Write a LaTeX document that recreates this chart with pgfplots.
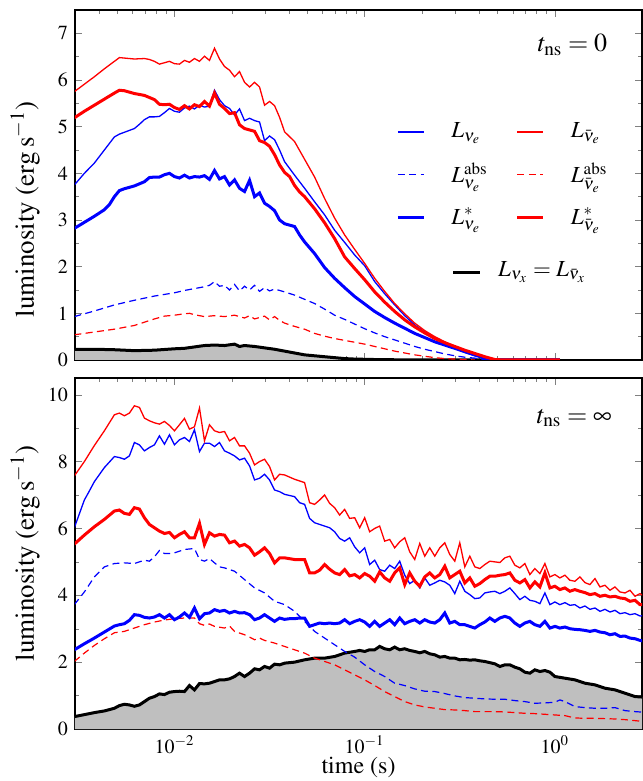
\documentclass[border=0pt]{standalone}
\usepackage[T1]{fontenc}
\usepackage{mathptmx}
\usepackage{pgfplots}
\usepackage{pgfplotstable}
\pgfplotsset{compat=1.18}
\definecolor{fillgray}{gray}{0.75}
\definecolor{pblue}{RGB}{0,0,255}
\definecolor{pred}{RGB}{255,0,0}

\tikzset{
  lthin/.style={line width=0.65pt},
  lthick/.style={line width=1.5pt},
  ldash/.style={line width=0.6pt, dash pattern=on 3.5pt off 2.2pt},
}

% black curves (nu_x) are read twice: once for the grey area, once for the line
\pgfplotstableread{
t L
0.002976 0.23
0.003793 0.23
0.004833 0.22
0.006158 0.20
0.007848 0.21
0.01 0.24
0.01129 0.25
0.01274 0.28
0.01438 0.31
0.01624 0.32
0.01833 0.31
0.02069 0.34
0.02198 0.29
0.02336 0.31
0.02637 0.29
0.02976 0.26
0.03360 0.23
0.03793 0.19
0.04281 0.15
0.04833 0.11
0.05456 0.09
0.06158 0.07
0.06952 0.05
0.07848 0.03
0.08859 0.02
0.1129 0.01
0.1833 0
1.062 0
}\topx

\pgfplotstableread{
t L
0.002976 0.37
0.003360 0.43
0.003793 0.49
0.004281 0.54
0.004833 0.62
0.005135 0.70
0.005456 0.74
0.005796 0.72
0.006158 0.68
0.006543 0.72
0.006952 0.82
0.007386 0.92
0.007848 0.97
0.008338 1.05
0.008859 1.03
0.009412 1.10
0.01 1.12
0.01062 1.13
0.01129 1.12
0.01199 1.30
0.01274 1.17
0.01354 1.36
0.01438 1.35
0.01528 1.37
0.01624 1.42
0.01725 1.47
0.01833 1.47
0.01948 1.50
0.02069 1.57
0.02198 1.67
0.02336 1.57
0.02482 1.67
0.02637 1.80
0.02801 1.77
0.02976 1.87
0.03162 1.82
0.03360 1.94
0.03570 1.92
0.03793 1.97
0.04281 2.00
0.04833 2.07
0.05456 2.12
0.06158 2.12
0.06952 2.17
0.07848 2.27
0.08859 2.32
0.09412 2.35
0.1 2.32
0.1062 2.37
0.1129 2.37
0.1199 2.47
0.1274 2.40
0.1354 2.37
0.1438 2.45
0.1528 2.37
0.1624 2.40
0.1725 2.35
0.1833 2.32
0.1948 2.28
0.2069 2.32
0.2198 2.25
0.2336 2.22
0.2482 2.15
0.2637 2.17
0.2801 2.12
0.2976 2.12
0.3162 2.07
0.3360 2.08
0.3570 2.06
0.3793 2.07
0.4030 2.04
0.4281 2.02
0.4833 1.95
0.5135 1.87
0.5456 1.92
0.5796 1.92
0.6158 1.85
0.6543 1.80
0.6952 1.70
0.7386 1.67
0.7848 1.77
0.8338 1.72
0.8859 1.75
0.9412 1.70
1.000 1.57
1.129 1.52
1.274 1.47
1.438 1.37
1.624 1.32
1.833 1.22
2.069 1.17
2.336 1.07
2.637 0.97
2.976 0.95
}\botx

\begin{document}
\begin{tikzpicture}
\useasboundingbox (-37.5pt,-26pt) rectangle (283.5pt,364.5pt);

% ---- t_ns = 0 ----
\begin{axis}[
  scale only axis, width=283.5pt, height=175pt, at={(0pt,184.5pt)},
  xmode=log, xmin=0.003, xmax=2.87, ymin=0, ymax=7.5,
  ytick={0,1,2,3,4,5,6,7}, minor y tick num=1,
  xticklabels={},
  tick align=inside,
  major tick length=3.5pt, minor tick length=2pt,
  axis line style={line width=0.6pt},
  tick label style={font=\fontsize{10}{12}\selectfont},
  ylabel={luminosity (erg\,s$^{-1}$)},
  ylabel style={font=\fontsize{13.5}{15}\selectfont, at={(axis description cs:-0.088,0.43)}, anchor=center},
  legend columns=2,
  legend cell align=left,
  legend image code/.code={\draw[#1] (0pt,0pt) -- (13pt,0pt);},
  legend style={draw=none, fill=none, inner sep=0pt,
    at={(0.566,0.69)}, anchor=north west,
    font=\fontsize{11.5}{14}\selectfont, row sep=7pt,
    /tikz/every odd column/.append style={column sep=11pt},
    /tikz/every even column/.append style={column sep=12pt}},
]
\addplot[draw=none, fill=fillgray, forget plot] table[x=t,y=L] {\topx} \closedcycle;
\addplot[black, lthick, forget plot] table[x=t,y=L] {\topx};

\addplot[draw=pblue, lthin] coordinates {
(0.002976,3.75)(0.003360,4.00)(0.003793,4.22)(0.004281,4.50)(0.004833,4.78)(0.005135,4.84)(0.005456,4.88)(0.006158,4.96)(0.006543,5.05)(0.006952,5.15)(0.007386,5.21)(0.007848,5.21)(0.008338,5.22)(0.008859,5.30)(0.009412,5.39)(0.01,5.33)(0.01062,5.31)(0.01129,5.40)(0.01199,5.44)(0.01274,5.38)(0.01354,5.46)(0.01438,5.42)(0.01528,5.44)(0.01624,5.78)(0.01725,5.58)(0.01833,5.45)(0.01948,5.39)(0.02069,5.25)(0.02198,5.38)(0.02336,5.13)(0.02482,5.18)(0.02637,5.13)(0.02801,5.10)(0.02976,4.70)(0.03162,4.80)(0.03360,4.72)(0.03570,4.50)(0.03793,4.25)(0.04281,3.96)(0.04833,3.68)(0.05456,3.39)(0.06158,3.11)(0.06952,2.78)(0.07848,2.52)(0.08859,2.25)(0.1,2.02)(0.1129,1.68)(0.1274,1.42)(0.1438,1.18)(0.1624,0.95)(0.1833,0.75)(0.2069,0.60)(0.2336,0.46)(0.2637,0.35)(0.2976,0.25)(0.3360,0.16)(0.3793,0.09)(0.4281,0.03)(0.4833,0)(1.062,0)
};
\addlegendentry{$L_{\nu_e}$}
\addplot[draw=pred, lthin] coordinates {
(0.002976,5.75)(0.003360,5.91)(0.003793,6.07)(0.004281,6.24)(0.004833,6.40)(0.005135,6.48)(0.005456,6.47)(0.006158,6.45)(0.006952,6.46)(0.007386,6.44)(0.007848,6.40)(0.008338,6.34)(0.008859,6.37)(0.009412,6.40)(0.01,6.35)(0.01062,6.34)(0.01129,6.42)(0.01199,6.38)(0.01274,6.46)(0.01354,6.40)(0.01438,6.51)(0.01528,6.42)(0.01624,6.68)(0.01725,6.45)(0.01833,6.29)(0.01948,6.21)(0.02069,6.07)(0.02198,6.18)(0.02336,5.95)(0.02482,5.85)(0.02637,5.95)(0.02801,5.85)(0.02976,5.46)(0.03162,5.54)(0.03360,5.45)(0.03570,5.20)(0.03793,4.89)(0.04281,4.68)(0.04833,4.30)(0.05456,3.92)(0.06158,3.46)(0.06952,3.04)(0.07848,2.68)(0.08859,2.37)(0.1,2.07)(0.1129,1.75)(0.1274,1.47)(0.1438,1.21)(0.1624,0.99)(0.1833,0.79)(0.2069,0.63)(0.2336,0.50)(0.2637,0.39)(0.2976,0.29)(0.3360,0.19)(0.3793,0.11)(0.4281,0.04)(0.4833,0)(1.062,0)
};
\addlegendentry{$L_{\bar\nu_e}$}
\addplot[draw=pblue, ldash] coordinates {
(0.002976,0.93)(0.003793,1.05)(0.004833,1.18)(0.006158,1.28)(0.007848,1.37)(0.01,1.44)(0.01129,1.49)(0.01274,1.53)(0.01438,1.57)(0.01528,1.60)(0.01624,1.68)(0.01725,1.58)(0.01833,1.60)(0.01948,1.50)(0.02069,1.62)(0.02198,1.48)(0.02336,1.58)(0.02482,1.50)(0.02637,1.60)(0.02801,1.47)(0.02976,1.55)(0.03162,1.48)(0.03360,1.52)(0.03793,1.46)(0.04281,1.39)(0.04833,1.30)(0.05456,1.21)(0.06158,1.09)(0.06952,0.96)(0.07848,0.87)(0.08859,0.77)(0.1,0.67)(0.1129,0.58)(0.1274,0.50)(0.1438,0.43)(0.1624,0.36)(0.1833,0.29)(0.2069,0.23)(0.2336,0.18)(0.2637,0.13)(0.2976,0.09)(0.3360,0.06)(0.3793,0.04)(0.4281,0.01)(0.4833,0)
};
\addlegendentry{$L^{\mathrm{abs}}_{\nu_e}$}
\addplot[draw=pred, ldash] coordinates {
(0.002976,0.54)(0.003793,0.60)(0.004833,0.66)(0.006158,0.74)(0.007848,0.88)(0.008859,0.94)(0.01,0.96)(0.01129,0.99)(0.01199,1.00)(0.01274,0.97)(0.01438,0.93)(0.01624,0.95)(0.01833,0.93)(0.02069,0.96)(0.02336,0.90)(0.02482,0.95)(0.02637,0.88)(0.02976,0.94)(0.03162,0.86)(0.03360,0.93)(0.03570,0.85)(0.03793,0.79)(0.04281,0.72)(0.04833,0.66)(0.05456,0.57)(0.06158,0.51)(0.06952,0.46)(0.07848,0.42)(0.08859,0.38)(0.1,0.34)(0.1129,0.29)(0.1274,0.24)(0.1438,0.19)(0.1624,0.15)(0.1833,0.11)(0.2069,0.08)(0.2336,0.05)(0.2637,0.03)(0.2976,0.02)(0.3360,0.01)(0.3793,0)
};
\addlegendentry{$L^{\mathrm{abs}}_{\bar\nu_e}$}
\addplot[draw=pblue, lthick] coordinates {
(0.002976,2.82)(0.003360,2.95)(0.003793,3.08)(0.004281,3.22)(0.004549,3.33)(0.004833,3.50)(0.005135,3.63)(0.005456,3.67)(0.006158,3.73)(0.006952,3.82)(0.007386,3.91)(0.007848,3.92)(0.008338,3.92)(0.008859,3.97)(0.009412,4.00)(0.01,3.93)(0.01062,3.90)(0.01129,3.96)(0.01199,3.90)(0.01274,3.93)(0.01354,3.92)(0.01438,3.95)(0.01528,3.87)(0.01624,4.06)(0.01725,3.88)(0.01833,3.93)(0.01948,3.75)(0.02069,3.86)(0.02198,3.68)(0.02336,3.61)(0.02482,3.85)(0.02637,3.50)(0.02801,3.58)(0.02976,3.36)(0.03162,3.29)(0.03360,3.20)(0.03570,3.00)(0.03793,2.92)(0.04281,2.86)(0.04549,2.68)(0.04833,2.53)(0.05456,2.28)(0.06158,1.98)(0.06952,1.75)(0.07848,1.55)(0.08859,1.36)(0.1,1.20)(0.1129,1.04)(0.1274,0.91)(0.1438,0.79)(0.1624,0.68)(0.1833,0.57)(0.2069,0.48)(0.2336,0.39)(0.2637,0.32)(0.2976,0.25)(0.3360,0.18)(0.3793,0.11)(0.4281,0.04)(0.4833,0)(1.062,0)
};
\addlegendentry{$L^{*}_{\nu_e}$}
\addplot[draw=pred, lthick] coordinates {
(0.002976,5.19)(0.003360,5.33)(0.003793,5.46)(0.004281,5.59)(0.004833,5.72)(0.005135,5.78)(0.005456,5.77)(0.006158,5.71)(0.006952,5.67)(0.007848,5.58)(0.008338,5.48)(0.008859,5.47)(0.009412,5.48)(0.01,5.41)(0.01062,5.37)(0.01129,5.45)(0.01199,5.38)(0.01274,5.47)(0.01354,5.43)(0.01438,5.54)(0.01528,5.44)(0.01624,5.72)(0.01725,5.48)(0.01833,5.39)(0.01948,5.28)(0.02069,5.30)(0.02198,5.04)(0.02336,4.96)(0.02482,4.93)(0.02637,4.90)(0.02801,4.70)(0.02976,4.66)(0.03162,4.58)(0.03360,4.40)(0.03570,4.18)(0.03793,4.02)(0.04030,3.93)(0.04281,3.74)(0.04549,3.60)(0.04833,3.50)(0.05456,3.24)(0.06158,2.94)(0.06952,2.60)(0.07848,2.21)(0.08859,1.96)(0.1,1.72)(0.1129,1.46)(0.1274,1.24)(0.1438,1.04)(0.1624,0.86)(0.1833,0.71)(0.2069,0.58)(0.2336,0.46)(0.2637,0.37)(0.2976,0.29)(0.3360,0.21)(0.3793,0.14)(0.4281,0.07)(0.4833,0.01)(0.5456,0)(1.062,0)
};
\addlegendentry{$L^{*}_{\bar\nu_e}$}

\draw[black, line width=1.5pt] (rel axis cs:0.667,0.251) -- (rel axis cs:0.714,0.251);
\node[anchor=west, font=\fontsize{11.5}{14}\selectfont] at (rel axis cs:0.734,0.251) {$L_{\nu_x}=L_{\bar\nu_x}$};
\node[anchor=east, font=\fontsize{13}{15}\selectfont] at (rel axis cs:0.951,0.90) {$t_{\mathrm{ns}}=0$};
\end{axis}

% ---- t_ns = infinity ----
\begin{axis}[
  scale only axis, width=283.5pt, height=175.5pt, at={(0pt,0pt)},
  xmode=log, xmin=0.003, xmax=2.87, ymin=0, ymax=10.5,
  ytick={0,2,4,6,8,10}, minor y tick num=1,
  tick align=inside,
  major tick length=3.5pt, minor tick length=2pt,
  axis line style={line width=0.6pt},
  tick label style={font=\fontsize{10}{12}\selectfont},
  xlabel={time (s)},
  xlabel style={font=\fontsize{12}{14}\selectfont, at={(axis description cs:0.5,-0.111)}, anchor=center},
  ylabel={luminosity (erg\,s$^{-1}$)},
  ylabel style={font=\fontsize{13.5}{15}\selectfont, at={(axis description cs:-0.088,0.5)}, anchor=center},
]
\addplot[draw=none, fill=fillgray] table[x=t,y=L] {\botx} \closedcycle;
\addplot[black, lthick] table[x=t,y=L] {\botx};

\addplot[draw=pblue, lthin] coordinates {
(0.002976,6.02)(0.003360,6.85)(0.003570,7.12)(0.003793,7.40)(0.004281,7.82)(0.004833,8.15)(0.005135,8.12)(0.005456,8.07)(0.005796,8.17)(0.006158,8.57)(0.006543,8.50)(0.006952,8.32)(0.007386,8.42)(0.007848,8.50)(0.008338,8.77)(0.008859,8.52)(0.009412,8.80)(0.01,8.50)(0.01062,8.65)(0.01129,8.72)(0.01199,8.60)(0.01274,8.95)(0.01354,8.30)(0.01438,8.55)(0.01528,8.55)(0.01624,8.45)(0.01725,8.57)(0.01833,8.32)(0.01948,8.25)(0.02069,8.17)(0.02198,8.05)(0.02336,8.10)(0.02482,7.87)(0.02637,7.45)(0.02801,7.50)(0.02976,7.62)(0.03162,7.45)(0.03360,7.15)(0.03570,7.10)(0.03793,7.02)(0.04281,6.95)(0.04549,6.77)(0.04833,6.72)(0.05135,6.30)(0.05456,6.17)(0.06158,6.07)(0.06543,6.02)(0.06952,5.90)(0.07386,5.70)(0.07848,5.62)(0.08338,5.72)(0.08859,5.45)(0.09412,5.27)(0.1,5.42)(0.1062,4.92)(0.1129,5.05)(0.1199,4.77)(0.1274,4.72)(0.1354,4.90)(0.1438,4.80)(0.1528,5.02)(0.1624,4.60)(0.1725,4.35)(0.1833,4.45)(0.1948,4.22)(0.2069,4.52)(0.2198,4.30)(0.2336,4.37)(0.2482,4.45)(0.2637,4.40)(0.2801,4.30)(0.2976,4.05)(0.3162,4.42)(0.3360,4.12)(0.3570,4.02)(0.3793,3.90)(0.4030,3.92)(0.4281,4.07)(0.4549,4.10)(0.4833,4.12)(0.5135,4.05)(0.5456,4.12)(0.5796,4.22)(0.6158,4.05)(0.6543,3.87)(0.6952,3.97)(0.7386,3.85)(0.7848,3.82)(0.8338,3.75)(0.8859,4.07)(0.9412,3.72)(1.000,3.80)(1.062,3.72)(1.129,3.78)(1.199,3.70)(1.274,3.72)(1.354,3.62)(1.438,3.68)(1.528,3.58)(1.624,3.62)(1.725,3.52)(1.833,3.58)(1.948,3.50)(2.069,3.55)(2.198,3.45)(2.336,3.48)(2.482,3.42)(2.637,3.45)(2.801,3.38)(2.976,3.40)
};
\addplot[draw=pred, lthin] coordinates {
(0.002976,7.57)(0.003360,8.00)(0.003793,8.48)(0.004281,8.92)(0.004833,9.40)(0.005135,9.45)(0.005456,9.37)(0.005796,9.45)(0.006158,9.67)(0.006543,9.62)(0.006952,9.30)(0.007386,9.22)(0.007848,9.16)(0.008338,9.12)(0.008859,9.20)(0.009412,9.08)(0.01,8.92)(0.01062,9.10)(0.01129,9.29)(0.01199,8.97)(0.01274,9.04)(0.01354,9.60)(0.01438,8.62)(0.01528,9.10)(0.01624,8.92)(0.01725,8.87)(0.01833,8.90)(0.01948,8.62)(0.02069,8.72)(0.02198,8.47)(0.02336,8.47)(0.02482,8.25)(0.02637,7.90)(0.02801,8.00)(0.02976,8.07)(0.03162,7.85)(0.03360,7.45)(0.03570,7.62)(0.03793,7.60)(0.04281,7.47)(0.04833,7.37)(0.05135,6.77)(0.05456,6.72)(0.05796,6.85)(0.06158,7.00)(0.06543,6.75)(0.06952,6.62)(0.07386,6.40)(0.07848,6.57)(0.08338,6.30)(0.08859,6.32)(0.09412,6.02)(0.1,6.32)(0.1062,5.90)(0.1129,6.00)(0.1199,6.07)(0.1274,5.62)(0.1354,5.67)(0.1438,5.42)(0.1528,5.60)(0.1624,5.72)(0.1725,5.30)(0.1833,5.07)(0.1948,5.55)(0.2069,5.17)(0.2198,5.42)(0.2336,5.17)(0.2482,5.42)(0.2637,5.57)(0.2801,5.22)(0.2976,5.02)(0.3162,5.57)(0.3360,4.85)(0.3570,5.17)(0.3793,4.85)(0.4030,4.80)(0.4281,4.92)(0.4549,5.02)(0.4833,5.00)(0.5135,4.98)(0.5456,5.12)(0.5796,5.17)(0.6158,4.90)(0.6543,4.82)(0.6952,4.95)(0.7386,4.62)(0.7848,4.80)(0.8338,4.65)(0.8859,4.95)(0.9412,4.55)(1.000,4.62)(1.062,4.52)(1.129,4.60)(1.199,4.45)(1.274,4.42)(1.354,4.55)(1.438,4.38)(1.528,4.32)(1.624,4.50)(1.725,4.25)(1.833,4.30)(1.948,4.15)(2.069,4.25)(2.198,4.10)(2.336,4.07)(2.482,4.15)(2.637,3.97)(2.801,4.05)(2.976,3.95)
};
\addplot[draw=pblue, ldash] coordinates {
(0.002976,3.72)(0.003360,4.10)(0.003793,4.55)(0.004281,4.85)(0.004833,4.95)(0.005456,4.97)(0.006158,4.95)(0.006952,5.05)(0.007386,5.02)(0.007848,5.15)(0.008338,5.34)(0.008859,5.25)(0.009412,5.25)(0.01,5.27)(0.01129,5.37)(0.01274,5.40)(0.01354,5.07)(0.01438,5.02)(0.01528,5.10)(0.01624,4.97)(0.01725,4.85)(0.01833,4.82)(0.02069,4.72)(0.02336,4.47)(0.02637,4.22)(0.02976,4.07)(0.03360,3.82)(0.03793,3.72)(0.04281,3.52)(0.04833,3.22)(0.05456,2.92)(0.06158,2.72)(0.06952,2.52)(0.07848,2.32)(0.08859,2.15)(0.1,1.92)(0.1129,1.72)(0.1274,1.57)(0.1438,1.37)(0.1624,1.30)(0.1833,1.20)(0.2069,1.13)(0.2336,1.12)(0.2637,1.06)(0.2976,0.99)(0.3360,0.94)(0.3793,0.92)(0.4281,0.90)(0.4833,0.89)(0.5456,0.89)(0.6158,0.85)(0.6952,0.82)(0.7848,0.77)(0.8859,0.78)(1.000,0.80)(1.062,0.87)(1.129,0.82)(1.274,0.67)(1.438,0.64)(1.624,0.62)(1.833,0.62)(2.069,0.64)(2.336,0.55)(2.637,0.52)(2.976,0.50)
};
\addplot[draw=pred, ldash] coordinates {
(0.002976,2.02)(0.003360,2.27)(0.003793,2.50)(0.004281,2.70)(0.004833,2.88)(0.005456,2.92)(0.006158,3.02)(0.006952,3.12)(0.007848,3.20)(0.008859,3.26)(0.01,3.30)(0.01129,3.32)(0.01274,3.32)(0.01354,3.15)(0.01438,3.10)(0.01528,3.14)(0.01624,3.07)(0.01833,3.02)(0.01948,3.08)(0.02069,2.92)(0.02336,2.82)(0.02482,2.75)(0.02637,2.67)(0.02801,2.72)(0.02976,2.65)(0.03360,2.57)(0.03793,2.47)(0.04281,2.37)(0.04833,2.27)(0.05456,2.12)(0.06158,2.02)(0.06952,1.92)(0.07848,1.77)(0.08859,1.62)(0.1,1.47)(0.1129,1.30)(0.1274,1.12)(0.1438,0.97)(0.1624,0.82)(0.1833,0.72)(0.2069,0.66)(0.2336,0.62)(0.2637,0.58)(0.2976,0.57)(0.3360,0.55)(0.3793,0.52)(0.4281,0.52)(0.4833,0.52)(0.5456,0.51)(0.6158,0.49)(0.6952,0.47)(0.7848,0.46)(0.8859,0.44)(1.000,0.42)(1.129,0.40)(1.274,0.33)(1.438,0.32)(1.624,0.32)(1.833,0.31)(2.069,0.30)(2.336,0.28)(2.637,0.25)(2.976,0.22)
};
\addplot[draw=pblue, lthick] coordinates {
(0.002976,2.37)(0.003360,2.55)(0.003793,2.72)(0.004281,2.90)(0.004833,3.08)(0.005135,3.12)(0.005456,3.15)(0.005796,3.25)(0.006158,3.42)(0.006543,3.40)(0.006952,3.34)(0.007386,3.32)(0.007848,3.35)(0.008338,3.42)(0.008859,3.32)(0.009412,3.42)(0.01,3.27)(0.01062,3.35)(0.01129,3.47)(0.01199,3.34)(0.01274,3.62)(0.01354,3.30)(0.01438,3.45)(0.01528,3.47)(0.01624,3.57)(0.01725,3.52)(0.01833,3.55)(0.01948,3.47)(0.02069,3.52)(0.02198,3.47)(0.02336,3.48)(0.02482,3.42)(0.02637,3.27)(0.02801,3.32)(0.02976,3.42)(0.03162,3.32)(0.03360,3.22)(0.03570,3.32)(0.03793,3.28)(0.04030,3.30)(0.04281,3.30)(0.04549,3.32)(0.04833,3.32)(0.05135,3.07)(0.05456,3.12)(0.05796,3.17)(0.06158,3.15)(0.06543,3.17)(0.06952,3.15)(0.07386,3.17)(0.07848,3.27)(0.08338,3.15)(0.08859,3.22)(0.09412,3.27)(0.1,3.20)(0.1062,3.07)(0.1129,3.22)(0.1199,3.07)(0.1274,3.17)(0.1354,3.27)(0.1438,3.12)(0.1528,3.32)(0.1624,3.15)(0.1725,3.22)(0.1833,3.27)(0.1948,3.17)(0.2069,3.27)(0.2198,3.20)(0.2336,3.17)(0.2482,3.27)(0.2637,3.47)(0.2801,3.17)(0.2976,3.22)(0.3162,3.12)(0.3360,3.12)(0.3570,3.07)(0.3793,3.02)(0.4030,3.12)(0.4281,3.20)(0.4549,3.32)(0.4833,3.22)(0.5135,3.32)(0.5456,3.37)(0.5796,3.32)(0.6158,3.17)(0.6543,3.07)(0.6952,3.17)(0.7386,3.22)(0.7848,3.12)(0.8338,3.07)(0.8859,3.22)(0.9412,3.02)(1.000,3.07)(1.062,3.02)(1.129,3.05)(1.199,3.00)(1.274,2.98)(1.354,2.97)(1.438,2.95)(1.528,2.92)(1.624,2.95)(1.725,2.90)(1.833,2.88)(1.948,2.82)(2.069,2.85)(2.198,2.77)(2.336,2.78)(2.482,2.72)(2.637,2.70)(2.801,2.65)(2.976,2.62)
};
\addplot[draw=pred, lthick] coordinates {
(0.002976,5.53)(0.003360,5.80)(0.003793,6.05)(0.004281,6.27)(0.004833,6.52)(0.005135,6.55)(0.005456,6.45)(0.005796,6.42)(0.006158,6.62)(0.006543,6.58)(0.006952,6.32)(0.007386,6.12)(0.007848,6.02)(0.008338,5.92)(0.008859,5.85)(0.009412,5.88)(0.01,5.72)(0.01062,5.82)(0.01129,5.90)(0.01199,5.72)(0.01274,5.72)(0.01354,6.15)(0.01438,5.52)(0.01528,5.87)(0.01624,5.77)(0.01725,5.82)(0.01833,5.80)(0.01948,5.57)(0.02069,5.62)(0.02198,5.47)(0.02336,5.52)(0.02482,5.42)(0.02637,5.20)(0.02801,5.30)(0.02976,5.42)(0.03162,5.25)(0.03360,4.97)(0.03570,5.12)(0.03793,5.12)(0.04281,5.07)(0.04833,5.07)(0.05135,4.67)(0.05456,4.67)(0.05796,4.75)(0.06158,4.92)(0.06543,4.78)(0.06952,4.67)(0.07386,4.62)(0.07848,4.77)(0.08338,4.58)(0.08859,4.62)(0.09412,4.52)(0.1,4.65)(0.1062,4.57)(0.1129,4.42)(0.1199,4.70)(0.1274,4.52)(0.1354,4.42)(0.1438,4.67)(0.1528,4.82)(0.1624,4.32)(0.1725,4.67)(0.1833,4.42)(0.1948,4.27)(0.2069,4.55)(0.2198,4.67)(0.2336,4.52)(0.2482,4.62)(0.2637,4.87)(0.2801,4.52)(0.2976,4.62)(0.3162,4.72)(0.3360,4.37)(0.3570,4.52)(0.3793,4.27)(0.4030,4.35)(0.4281,4.47)(0.4549,4.57)(0.4833,4.57)(0.5135,4.60)(0.5456,4.62)(0.5796,4.67)(0.6158,4.45)(0.6543,4.37)(0.6952,4.47)(0.7386,4.22)(0.7848,4.40)(0.8338,4.25)(0.8859,4.67)(0.9412,4.22)(1.000,4.27)(1.062,4.17)(1.129,4.22)(1.199,4.12)(1.274,4.17)(1.354,4.12)(1.438,4.08)(1.528,4.02)(1.624,4.05)(1.725,3.97)(1.833,4.00)(1.948,3.95)(2.069,3.97)(2.198,3.92)(2.336,3.90)(2.482,3.82)(2.637,3.85)(2.801,3.72)(2.976,3.72)
};
\node[anchor=east, font=\fontsize{13}{15}\selectfont] at (rel axis cs:0.959,0.886) {$t_{\mathrm{ns}}=\infty$};
\end{axis}
\end{tikzpicture}
\end{document}
